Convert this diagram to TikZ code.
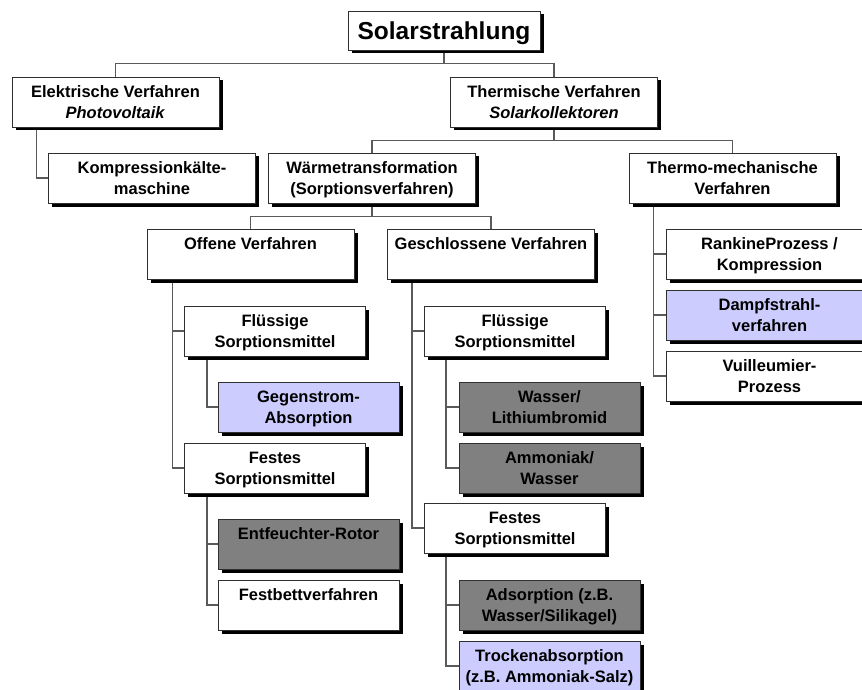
\documentclass[tikz,border=0pt]{standalone}
\usepackage{fontspec}
\setmainfont{Liberation Sans}
\usetikzlibrary{shadows,backgrounds}
\definecolor{lblue}{HTML}{CCCCFF}
\definecolor{dgray}{HTML}{808080}
\definecolor{boxline}{HTML}{303030}
\definecolor{connc}{HTML}{5A5A5A}
\begin{document}
\begin{tikzpicture}[x=1pt,y=-1pt,
  box/.style={draw=boxline, line width=0.9pt, fill=white, minimum height=50pt,
    inner sep=0pt, align=center, text depth=0pt, font=\fontsize{16.5}{21}\selectfont\bfseries,
    drop shadow={shadow xshift=3.5pt, shadow yshift=-3.5pt, opacity=1, fill=black}},
  wide/.style={box, minimum width=207pt},
  narrow/.style={box, minimum width=181pt},
  bluebox/.style={fill=lblue},
  darkbox/.style={fill=dgray},
  conn/.style={draw=connc, line width=1.2pt}]
\useasboundingbox (0,0) rectangle (862,690);

\node[box, minimum width=192pt, minimum height=39pt, text depth=0pt, font=\fontsize{24.5}{28}\selectfont\bfseries] (sol) at (444,30.5) {Solarstrahlung};

\node[wide] (elek) at (115.5,102) {Elektrische Verfahren\\\textit{Photovoltaik}};
\node[wide] (therm) at (554,102) {Thermische Verfahren\\\textit{Solarkollektoren}};

\node[wide] (komp) at (152,178) {Kompressionkälte-\\maschine};
\node[wide] (waerme) at (372,178) {Wärmetransformation\\(Sorptionsverfahren)};
\node[wide] (thmech) at (732.5,178) {Thermo-mechanische\\Verfahren};

\node[wide] (offen) at (250.5,254) {Offene Verfahren\\\strut};
\node[wide] (geschl) at (491,254) {Geschlossene Verfahren\\\strut};

\node[narrow] (fl1) at (275,331) {Flüssige\\Sorptionsmittel};
\node[narrow, bluebox] (gegen) at (308.5,407) {Gegenstrom-\\Absorption};
\node[narrow] (fest1) at (275,468) {Festes\\Sorptionsmittel};
\node[narrow, darkbox] (entf) at (308.5,544) {Entfeuchter-Rotor\\\strut};
\node[narrow] (festb) at (308.5,605) {Festbettverfahren\\\strut};

\node[narrow] (fl2) at (515,331) {Flüssige\\Sorptionsmittel};
\node[narrow, darkbox] (wasser) at (549.5,407) {Wasser/\\Lithiumbromid};
\node[narrow, darkbox] (ammon) at (549.5,468) {Ammoniak/\\Wasser};
\node[narrow] (fest2) at (515,528) {Festes\\Sorptionsmittel};
\node[narrow, darkbox] (ads) at (549.5,605) {Adsorption (z.B.\\Wasser/Silikagel)};
\node[narrow, bluebox] (trocken) at (549.5,666) {Trockenabsorption\\(z.B. Ammoniak-Salz)};

\node[wide] (rank) at (769.5,254) {RankineProzess /\\Kompression};
\node[wide, bluebox] (dampf) at (769.5,315) {Dampfstrahl-\\verfahren};
\node[wide] (vuill) at (769.5,376) {Vuilleumier-\\Prozess};

\begin{scope}[on background layer]
\draw[conn] (sol.south) -- ++(0,14);
\draw[conn] (elek.north) -- ++(0,-13) -| (therm.north);
\draw[conn] ([xshift=25pt]elek.south west) |- (komp.west);
\draw[conn] (therm.south) -- ++(0,14);
\draw[conn] (waerme.north) -- ++(0,-12) -| (thmech.north);
\draw[conn] (waerme.south) -- ++(0,14);
\draw[conn] (offen.north) -- ++(0,-12) -| (geschl.north);
\draw[conn] ([xshift=26pt]offen.south west) |- (fl1.west);
\draw[conn] ([xshift=26pt]offen.south west) |- (fest1.west);
\draw[conn] ([xshift=23pt]fl1.south west) |- (gegen.west);
\draw[conn] ([xshift=23pt]fest1.south west) |- (entf.west);
\draw[conn] ([xshift=23pt]fest1.south west) |- (festb.west);
\draw[conn] ([xshift=25pt]geschl.south west) |- (fl2.west);
\draw[conn] ([xshift=25pt]geschl.south west) |- (fest2.west);
\draw[conn] ([xshift=22pt]fl2.south west) |- (wasser.west);
\draw[conn] ([xshift=22pt]fl2.south west) |- (ammon.west);
\draw[conn] ([xshift=22pt]fest2.south west) |- (ads.west);
\draw[conn] ([xshift=22pt]fest2.south west) |- (trocken.west);
\draw[conn] ([xshift=25pt]thmech.south west) |- (rank.west);
\draw[conn] ([xshift=25pt]thmech.south west) |- (dampf.west);
\draw[conn] ([xshift=25pt]thmech.south west) |- (vuill.west);
\end{scope}
\end{tikzpicture}
\end{document}
